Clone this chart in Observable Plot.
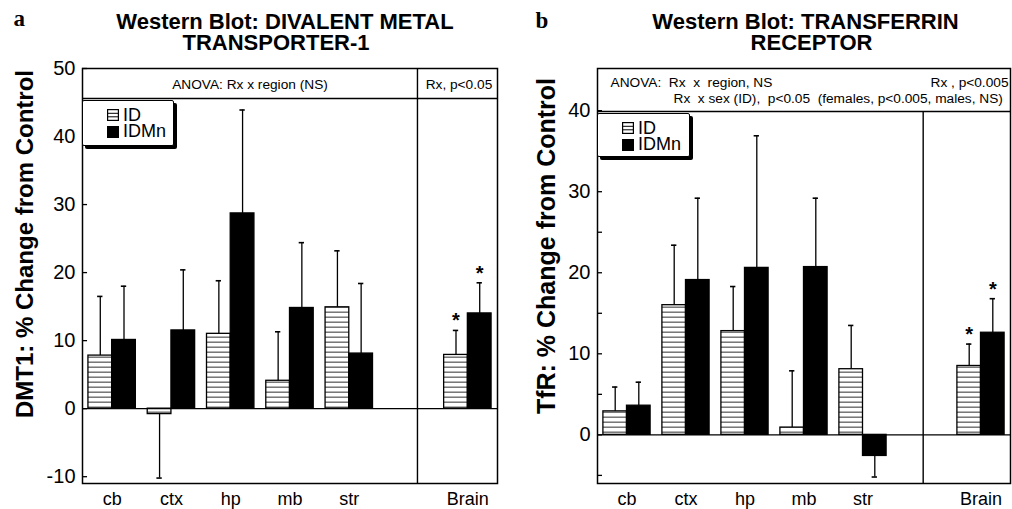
<!DOCTYPE html>
<html><head><meta charset="utf-8">
<script src="https://cdn.jsdelivr.net/npm/d3@7"></script>
<script src="https://cdn.jsdelivr.net/npm/@observablehq/plot@0.6"></script>
<style>
body{margin:0;background:#fff;font-family:"Liberation Sans",Arial,sans-serif;}
#wrap{position:relative;width:1012px;height:509px;overflow:hidden;background:#fff;}
.panel{position:absolute;top:0;}
.legend{position:absolute;background:#fff;border:1px solid #000;box-shadow:3px 3px 0 #000;border-radius:2px;box-sizing:border-box;}
.sw{position:absolute;width:12px;height:12px;}
.lt{position:absolute;font-size:18px;line-height:15px;white-space:nowrap;color:#000;}
</style></head>
<body>
<svg width="0" height="0" style="position:absolute">
  <defs>
    <pattern id="stripes" width="8" height="5" patternUnits="userSpaceOnUse">
      <rect width="8" height="5" fill="#fff"/>
      <rect y="1.5" width="8" height="1.4" fill="#6a6a6a"/>
    </pattern>
  </defs>
</svg>
<div id="wrap"></div>
<script>
// ---- data ----
const regions = ["cb", "ctx", "hp", "mb", "str", "Brain"];
const seriesNames = ["ID", "IDMn"];

// DMT1 (panel a)
const dmt1ID      = [7.8, -0.8, 11.0, 4.1, 14.9, 7.9];
const dmt1IDErr   = [8.7, 9.4, 7.8, 7.2, 8.3, 3.6];
const dmt1IDSig   = [0, 0, 0, 0, 0, 1];
const dmt1IDMn    = [10.1, 11.5, 28.7, 14.8, 8.1, 14.0];
const dmt1IDMnErr = [7.9, 8.9, 15.2, 9.6, 10.3, 4.5];
const dmt1IDMnSig = [0, 0, 0, 0, 0, 1];
const dmt1Ticks = [-10, 0, 10, 20, 30, 40, 50];

// TfR (panel b)
const tfrID      = [2.9, 16.0, 12.8, 0.9, 8.1, 8.5];
const tfrIDErr   = [3.0, 7.4, 5.5, 7.0, 5.4, 2.7];
const tfrIDSig   = [0, 0, 0, 0, 0, 1];
const tfrIDMn    = [3.6, 19.1, 20.6, 20.7, -2.6, 12.6];
const tfrIDMnErr = [2.9, 10.1, 16.3, 8.5, 2.6, 4.2];
const tfrIDMnSig = [0, 0, 0, 0, 0, 1];
const tfrTickMarks = [-5, 0, 5, 10, 15, 20, 25, 30, 35, 40];
const tfrTickLabels = [0, 10, 20, 30, 40];

const FONT = '"Liberation Sans", Arial, sans-serif';

// slot on the x axis: regions, then a gap, then the whole-brain group
function slotOf(i) { return i < regions.length - 1 ? i + 1 : i + 2; }
const slots = regions.map((r, i) => slotOf(i));

function buildRows(idV, idE, idS, mnV, mnE, mnS) {
  const out = [];
  regions.forEach((r, i) => {
    const s = slotOf(i);
    out.push({region: r, series: seriesNames[0], s, off: -1, v: idV[i], e: idE[i], sig: idS[i]});
    out.push({region: r, series: seriesNames[1], s, off: 1, v: mnV[i], e: mnE[i], sig: mnS[i]});
  });
  const W = 0.4;
  out.forEach(d => {
    d.x1 = d.off < 0 ? d.s - W : d.s;
    d.x2 = d.off < 0 ? d.s : d.s + W;
    d.cx = (d.x1 + d.x2) / 2;
    d.end = d.v + Math.sign(d.v) * d.e;
  });
  return out;
}

function panel(cfg) {
  const data = cfg.data;
  const [ymin, ymax] = cfg.yDomain;
  const marks = [
    Plot.rect(data.filter(d => d.series === "ID"), {x1: "x1", x2: "x2", y1: 0, y2: "v", fill: "url(#stripes)", stroke: "black", strokeWidth: 1.3}),
    Plot.rect(data.filter(d => d.series === "IDMn"), {x1: "x1", x2: "x2", y1: 0, y2: "v", fill: "black", stroke: "black", strokeWidth: 1.3}),
    Plot.ruleX(data, {x: "cx", y1: "v", y2: "end", stroke: "black", strokeWidth: 1.3}),
    Plot.ruleY(data, {y: "end", x1: d => d.cx - 0.045, x2: d => d.cx + 0.045, stroke: "black", strokeWidth: 1.6}),
    Plot.text(data.filter(d => d.sig), {x: "cx", y: "end", text: () => "*", fontSize: 20, fontWeight: "bold", lineAnchor: "bottom", dy: -3}),
    Plot.ruleY([0], {stroke: "black", strokeWidth: 1.4}),
    Plot.ruleY([cfg.header], {stroke: "black", strokeWidth: 1.4}),
    Plot.ruleX([cfg.divider], {y1: ymin, y2: cfg.dividerTop, stroke: "black", strokeWidth: 1.4}),
    Plot.ruleY(cfg.tickMarks, {x1: 0.5, x2: 0.585, stroke: "black", strokeWidth: 1.3}),
    Plot.frame({stroke: "black", strokeWidth: 1.5}),
    Plot.axisY({ticks: cfg.tickLabels, tickFormat: d => String(d), tickSize: 0, tickPadding: 7, fontSize: 20, label: null}),
    Plot.axisX({ticks: slots, tickFormat: s => regions[slots.indexOf(s)], tickSize: 0, tickPadding: 9, fontSize: 18, label: null}),
    ...cfg.extra
  ];
  return Plot.plot({
    width: cfg.width, height: 509,
    marginTop: 68, marginBottom: 26, marginLeft: cfg.ml, marginRight: cfg.mr,
    x: {domain: [0.5, 7.5]},
    y: {domain: cfg.yDomain},
    style: {fontFamily: FONT, fontSize: "19px", color: "black", background: "white", overflow: "visible", whiteSpace: "pre"},
    marks
  });
}

const titleStyle = {fontSize: 22, fontWeight: "bold", lineAnchor: "bottom", frameAnchor: "top"};
const headStyle = {fontSize: 13.7, lineAnchor: "middle"};

const left = panel({
  data: buildRows(dmt1ID, dmt1IDErr, dmt1IDSig, dmt1IDMn, dmt1IDMnErr, dmt1IDMnSig),
  yDomain: [-11, 50], header: 45.6, divider: 6.15, dividerTop: 50,
  tickMarks: dmt1Ticks, tickLabels: dmt1Ticks,
  width: 510, ml: 82, mr: 13,
  extra: [
    Plot.text(["Western Blot: DIVALENT METAL"], {text: d => d, ...titleStyle, dx: -5, dy: -40}),
    Plot.text(["TRANSPORTER-1"], {text: d => d, ...titleStyle, dx: -14, dy: -19}),
    Plot.text(["a"], {text: d => d, frameAnchor: "top-left", textAnchor: "start", lineAnchor: "bottom", fontFamily: '"Liberation Serif", "Times New Roman", serif', fontWeight: "bold", fontSize: 23, dx: -69, dy: -43}),
    Plot.text(["DMT1: % Change from Control"], {text: d => d, frameAnchor: "left", rotate: -90, fontSize: 24, fontWeight: "bold", textAnchor: "middle", lineAnchor: "middle", dx: -57, dy: -32}),
    Plot.text(["ANOVA: Rx x region (NS)"], {text: d => d, x: (0.5 + 6.15) / 2, y: 47.6, ...headStyle}),
    Plot.text(["Rx, p<0.05"], {text: d => d, x: 6.85, y: 47.6, ...headStyle})
  ]
});

const right = panel({
  data: buildRows(tfrID, tfrIDErr, tfrIDSig, tfrIDMn, tfrIDMnErr, tfrIDMnSig),
  yDomain: [-6, 45.2], header: 39.9, divider: 6.02, dividerTop: 39.9,
  tickMarks: tfrTickMarks, tickLabels: tfrTickLabels,
  width: 502, ml: 87, mr: 2,
  extra: [
    Plot.text(["Western Blot: TRANSFERRIN"], {text: d => d, ...titleStyle, dx: 1.5, dy: -40}),
    Plot.text(["RECEPTOR"], {text: d => d, ...titleStyle, dx: 7.5, dy: -19}),
    Plot.text(["b"], {text: d => d, frameAnchor: "top-left", textAnchor: "start", lineAnchor: "bottom", fontFamily: '"Liberation Serif", "Times New Roman", serif', fontWeight: "bold", fontSize: 23, dx: -62, dy: -41}),
    Plot.text(["TfR: % Change from Control"], {text: d => d, frameAnchor: "left", rotate: -90, fontSize: 25, fontWeight: "bold", textAnchor: "middle", lineAnchor: "middle", dx: -51, dy: -30}),
    Plot.text(["ANOVA:  Rx  x  region, NS"], {text: d => d, frameAnchor: "top-left", textAnchor: "start", ...headStyle, dx: 13, dy: 14}),
    Plot.text(["Rx , p<0.005"], {text: d => d, frameAnchor: "top-right", textAnchor: "end", ...headStyle, dx: -2, dy: 14}),
    Plot.text(["Rx  x sex (ID),  p<0.05  (females, p<0.005, males, NS)"], {text: d => d, frameAnchor: "top-left", textAnchor: "start", ...headStyle, dx: 76, dy: 30})
  ]
});

const wrap = document.getElementById("wrap");
const pl = document.createElement("div"); pl.className = "panel"; pl.style.left = "0px"; pl.appendChild(left);
const pr = document.createElement("div"); pr.className = "panel"; pr.style.left = "510px"; pr.appendChild(right);
wrap.appendChild(pl); wrap.appendChild(pr);

// legends
function legend(x, y, w, h) {
  const box = document.createElement("div");
  box.className = "legend";
  Object.assign(box.style, {left: x + "px", top: y + "px", width: w + "px", height: h + "px"});
  seriesNames.forEach((name, k) => {
    const sw = document.createElementNS("http://www.w3.org/2000/svg", "svg");
    sw.setAttribute("class", "sw");
    sw.setAttribute("width", 12); sw.setAttribute("height", 12);
    sw.style.left = "24px"; sw.style.top = (8 + 16.5 * k) + "px";
    sw.innerHTML = k === 0
      ? '<rect x="0.6" y="0.6" width="10.8" height="10.8" fill="#fff" stroke="#000" stroke-width="1.2"/><line x1="0" x2="12" y1="4.3" y2="4.3" stroke="#000" stroke-width="1"/><line x1="0" x2="12" y1="7.8" y2="7.8" stroke="#000" stroke-width="1"/>'
      : '<rect x="0" y="0" width="12" height="12" fill="#000"/>';
    box.appendChild(sw);
    const t = document.createElement("div");
    t.className = "lt";
    t.textContent = name;
    t.style.left = "40px"; t.style.top = (6.5 + 16.5 * k) + "px";
    box.appendChild(t);
  });
  wrap.appendChild(box);
}
legend(82, 100, 92, 46);
legend(597, 113, 93, 44);
</script>
</body></html>
